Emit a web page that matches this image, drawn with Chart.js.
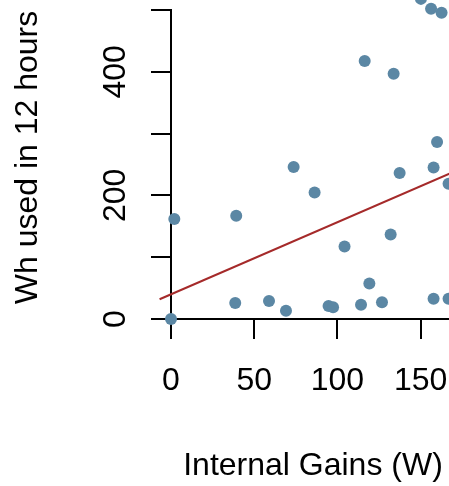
<!DOCTYPE html>
<html>
<head>
<meta charset="utf-8">
<script src="https://cdn.jsdelivr.net/npm/chart.js@4/dist/chart.umd.min.js"></script>
<style>
  html, body { margin: 0; padding: 0; background: #ffffff; }
  #c { display: block; }
</style>
</head>
<body>
<canvas id="c" width="449" height="486"></canvas>
<script>
// ---- data ----
const internalGains = [0, 2.0, 39.2, 73.7, 38.6, 58.9, 69.1, 86.3, 137.4, 157.8, 159.9, 166.8, 104.3, 132.0, 119.2, 94.7, 97.4, 114.2, 126.8, 157.8, 166.8, 116.4, 133.8, 150.2, 156.3, 162.6];
const whUsed12h     = [0, 162, 167, 246, 25.8, 29, 13.4, 204.7, 236.4, 245, 286.5, 219, 117.4, 136.8, 57.6, 21, 18.9, 23.1, 27, 32.8, 32.8, 417.3, 396.9, 518, 502, 495.5];

// fitted (regression) line end points
const fitGains = [-6.85, 168];
const fitWh    = [32, 236];

// tick labels
const xTickLabels = [0, 50, 100, 150];
const yTickLabels = [0, 200, 400];

const xTitle = 'Internal Gains (W)';
const yTitle = 'Wh used in 12 hours';

const FONT = '"Liberation Sans", Arial, Helvetica, sans-serif';

const points = internalGains.map((g, i) => ({ x: g, y: whUsed12h[i] }));
const fitLine = fitGains.map((g, i) => ({ x: g, y: fitWh[i] }));

const textPlugin = {
  id: 'rtexts',
  afterDraw(chart) {
    const ctx = chart.ctx;
    const xs = chart.scales.x, ys = chart.scales.y;
    const area = chart.chartArea;
    ctx.save();
    ctx.fillStyle = '#000000';
    ctx.font = '32px ' + FONT;
    ctx.textAlign = 'center';
    ctx.textBaseline = 'alphabetic';
    // x tick labels
    xTickLabels.forEach(v => {
      ctx.fillText(String(v), xs.getPixelForValue(v), area.bottom + 71);
    });
    // y tick labels (rotated)
    yTickLabels.forEach(v => {
      ctx.save();
      ctx.translate(area.left - 46, ys.getPixelForValue(v));
      ctx.rotate(-Math.PI / 2);
      ctx.fillText(String(v), 0, 0);
      ctx.restore();
    });
    // x title
    ctx.fillText(xTitle, 313, 475);
    // y title
    ctx.save();
    ctx.translate(37, 157.5);
    ctx.rotate(-Math.PI / 2);
    ctx.fillText(yTitle, 0, 0);
    ctx.restore();
    ctx.restore();
  }
};

new Chart(document.getElementById('c'), {
  type: 'scatter',
  data: {
    datasets: [
      {
        type: 'line',
        data: fitLine,
        borderColor: '#A52A2A',
        borderWidth: 2,
        pointRadius: 0,
        fill: false,
        clip: false,
        tension: 0
      },
      {
        data: points,
        backgroundColor: '#5B87A4',
        borderColor: '#5B87A4',
        borderWidth: 0,
        pointRadius: 6,
        pointHoverRadius: 24,
        clip: false
      }
    ]
  },
  options: {
    responsive: false,
    devicePixelRatio: 1,
    animation: false,
    events: [],
    layout: { autoPadding: false, padding: { top: 10, left: 0, right: 0, bottom: 0 } },
    plugins: {
      legend: { display: false },
      tooltip: { enabled: false },
      title: { display: false }
    },
    scales: {
      x: {
        type: 'linear',
        position: 'bottom',
        min: 0,
        max: 167.07,
        z: 1,
        ticks: { stepSize: 50, display: false, includeBounds: false },
        grid: { drawOnChartArea: false, drawTicks: true, tickLength: 20, color: '#000000', lineWidth: 2 },
        border: { display: true, color: '#000000', width: 2 },
        afterFit(scale) { scale.height = 167; }
      },
      y: {
        type: 'linear',
        position: 'left',
        min: 0,
        max: 500,
        z: 1,
        ticks: { stepSize: 100, display: false, includeBounds: false },
        grid: { drawOnChartArea: false, drawTicks: true, tickLength: 20, color: '#000000', lineWidth: 2 },
        border: { display: true, color: '#000000', width: 2 },
        afterFit(scale) { scale.width = 171; }
      }
    }
  },
  plugins: [textPlugin]
});
</script>
</body>
</html>
